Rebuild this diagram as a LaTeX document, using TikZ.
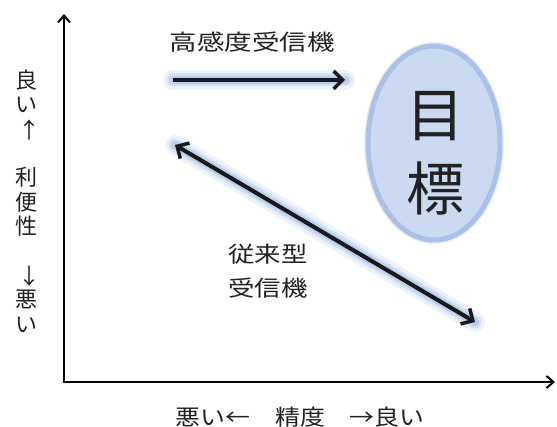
\documentclass[tikz,border=0pt]{standalone}
\usepackage{fontspec}
\newfontfamily\jp{Noto Sans CJK JP}
\usetikzlibrary{arrows.meta,shapes.geometric}
\definecolor{glowc}{HTML}{9DB9E8}
\definecolor{ellfill}{HTML}{CCDAF1}
\definecolor{ellring}{HTML}{A9C1E8}
\definecolor{txt}{HTML}{222222}
\tikzset{
  axisline/.style={line width=2.4, draw=black, {Straight Barb[length=7,width=12,line width=2]}-{Straight Barb[length=7,width=12,line width=2]}},
  mainarrow/.style={line width=4, draw=black!90, -{Straight Barb[length=9,width=18,line width=3.5]}},
  dblarrow/.style={line width=4, draw=black!90, {Straight Barb[length=9,width=18,line width=3.5]}-{Straight Barb[length=9,width=18,line width=3.5]}},
  glowA/.style={line width=20, draw=glowc, opacity=0.18, line cap=round},
  glowB/.style={line width=13, draw=glowc, opacity=0.3, line cap=round},
  glowC/.style={line width=8, draw=glowc, opacity=0.5, line cap=round},
  lbl/.style={font=\jp\fontsize{22}{24}\selectfont, text=txt, inner sep=0},
}
\begin{document}
\begin{tikzpicture}[x=1pt,y=-1pt]
\useasboundingbox[fill=white] (0,0) rectangle (557,427);
% axes
\coordinate (ytop) at (64,14);
\coordinate (O) at (64,382);
\coordinate (xend) at (555,382);
\draw[axisline] (ytop) -- (O) -- (xend);
% y label
\node[lbl, align=center, font=\jp\fontsize{22}{24.4}\selectfont] (ylab) at (26,201) {良\\い\\　\\　\\利\\便\\性\\　\\　\\悪\\い};
\node[lbl, font=\jp\fontsize{22}{24.4}\selectfont, anchor=center] (uparr) at (29,130) {↑};
\node[lbl, font=\jp\fontsize{22}{24.4}\selectfont, anchor=center] (dnarr) at (29,276) {↓};
% x label
\node[lbl, xscale=1.13] (xlab) at (300,417) {悪い←　精度　→良い};
% goal ellipse
\node[ellipse, minimum width=140, minimum height=202, fill=glowc, opacity=0.25, inner sep=0] (goalglow) at (434,143) {};
\node[ellipse, minimum width=132, minimum height=194, fill=ellfill, draw=ellring, line width=5, inner sep=0] (goal) at (434,143) {};
\node[align=center, font=\jp\fontsize{58}{74}\selectfont, text=txt, inner sep=0] (goaltext) at (435,153) {目\\標};
% high sensitivity receiver
\node[lbl, xscale=1.25] (hslab) at (252,42) {高感度受信機};
\coordinate (hsA) at (173,80);
\coordinate (hsB) at (345,80);
\draw[glowA] (hsA) -- (hsB);
\draw[glowB] (hsA) -- (hsB);
\draw[glowC] (hsA) -- (hsB);
\draw[mainarrow] (hsA) -- (hsB);
% conventional receiver
\coordinate (cvA) at (175,145);
\coordinate (cvB) at (475,322);
\draw[glowA] (cvA) -- (cvB);
\draw[glowB] (cvA) -- (cvB);
\draw[glowC] (cvA) -- (cvB);
\draw[dblarrow] (cvA) -- (cvB);
\node[lbl, align=center, xscale=1.2, font=\jp\fontsize{22}{34}\selectfont] (cvlab) at (268,271) {従来型\\受信機};
\end{tikzpicture}
\end{document}
